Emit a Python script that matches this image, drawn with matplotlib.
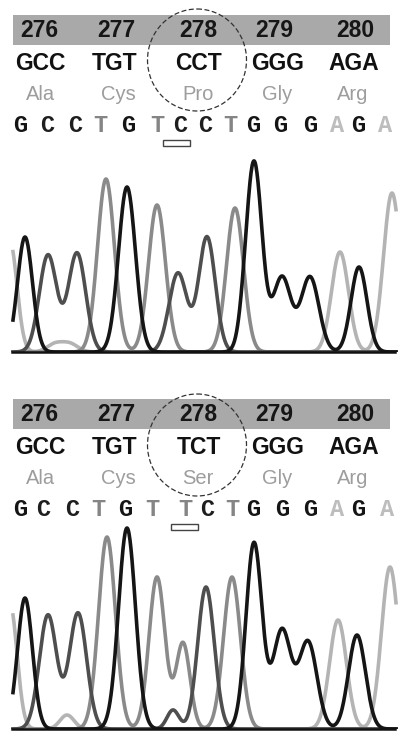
import numpy as np
import matplotlib
matplotlib.use("Agg")
import matplotlib.pyplot as plt
from matplotlib.patches import Rectangle, Ellipse

W, H = 398, 731

# Cabeçalho (igual nos dois painéis, menos o códon 278)
codon_numbers = ["276", "277", "278", "279", "280"]
codons_wt = ["GCC", "TGT", "CCT", "GGG", "AGA"]
codons_mut = ["GCC", "TGT", "TCT", "GGG", "AGA"]
amino_wt = ["Ala", "Cys", "Pro", "Gly", "Arg"]
amino_mut = ["Ala", "Cys", "Ser", "Gly", "Arg"]
number_x = [39, 116, 198, 274, 355]
codon_x = [40, 115, 199, 278, 354]
amino_x = [41, 118, 198, 277, 353]

# Bases chamadas e posição (scan) de cada uma
calls_wt = list("GCCTGTCCTGGGAGA")
calls_wt_x = [20, 47, 75, 100, 128, 157, 180, 205, 230, 253, 280, 310, 337, 358, 385]
calls_mut = list("GCCTGTTCTGGGAGA")
calls_mut_x = [20, 43, 72, 98, 125, 152, 185, 207, 232, 253, 282, 310, 337, 358, 387]

# Picos do cromatograma normal: posição, altura, largura
wt_G_pos = [25, 127, 243, 254, 282, 310, 359]
wt_G_h = [115, 165, 6, 190, 75, 75, 85]
wt_G_w = [7.5, 8.5, 5, 8, 9, 9, 8]
wt_C_pos = [48, 77, 178, 207]
wt_C_h = [97, 99, 79, 115]
wt_C_w = [8.7, 8.7, 9, 8.3]
wt_T_pos = [106, 157, 235]
wt_T_h = [173, 147, 144]
wt_T_w = [8.5, 8.5, 8.5]
wt_A_pos = [10, 55, 70, 340, 392]
wt_A_h = [110, 8, 8, 100, 159]
wt_A_w = [7, 8, 8, 8.5, 8.5]

# Picos do cromatograma mutante
mut_G_pos = [25, 127, 254, 282, 308, 357]
mut_G_h = [131, 201, 186, 99, 87, 94]
mut_G_w = [7.5, 8.5, 8, 9, 9, 8.5]
mut_C_pos = [48, 78, 173, 206]
mut_C_h = [114, 116, 19, 142]
mut_C_w = [8.7, 8.7, 6, 8.3]
mut_T_pos = [107, 157, 183, 232]
mut_T_h = [192, 152, 86, 152]
mut_T_w = [8.5, 8, 7, 8.5]
mut_A_pos = [10, 67, 338, 390]
mut_A_h = [125, 14, 109, 162]
mut_A_w = [7, 7, 8.5, 8.5]

trace_color = {"A": "#b4b4b4", "T": "#8a8a8a", "C": "#4e4e4e", "G": "#151515"}
letter_color = {"A": "#bdbdbd", "T": "#858585", "C": "#1e1e1e", "G": "#151515"}


def eixo_px(fig, x0, y0, x1, y1):
    return fig.add_axes([x0 / W, 1 - y1 / H, (x1 - x0) / W, (y1 - y0) / H])


def traco(scan, pos, alt, larg):
    y = np.zeros_like(scan)
    for p, h, s in zip(pos, alt, larg):
        y += h * np.exp(-(scan - p) ** 2 / (2 * s ** 2))
    return y


def desenha_cabecalho(ax, y0, codons, aminos, calls, calls_x, circ_y, box_x):
    ax.add_patch(Rectangle((13, y0), 377, 30, color="#a9a9a9", lw=0))
    for n, x in zip(codon_numbers, number_x):
        ax.text(x, y0 + 15.5, n, ha="center", va="center", fontsize=16.5,
                fontweight="bold", family="Liberation Sans", color="#161616")
    for c, x in zip(codons, codon_x):
        ax.text(x, y0 + 48, c, ha="center", va="center", fontsize=16.5,
                fontweight="bold", family="Liberation Sans", color="#111111")
    for a, x in zip(aminos, amino_x):
        ax.text(x, y0 + 80, a, ha="center", va="center", fontsize=14.5,
                family="Liberation Sans", color="#9d9d9d")
    for b, x in zip(calls, calls_x):
        ax.text(x, y0 + 110, b, ha="center", va="center", fontsize=17,
                fontweight="bold", family="Liberation Mono", color=letter_color[b])
    ax.add_patch(Ellipse((197, circ_y), 99, 102, fill=False, ec="#333333",
                         lw=0.9, ls=(0, (4, 2))))
    ax.add_patch(Rectangle((box_x, y0 + 125), 27, 6, fill=False, ec="#444444", lw=1))


def desenha_cromatograma(fig, y0, y1, canais):
    ax = eixo_px(fig, 0, y0, W, y1)
    scan = np.arange(13, 396.5, 0.5)
    for base in ["A", "T", "C", "G"]:
        pos, alt, larg = canais[base]
        ax.plot(scan, traco(scan, pos, alt, larg), color=trace_color[base],
                lw=2.6, solid_joinstyle="round")
    ax.plot([12, 395], [0, 0], color="#111111", lw=1.8, clip_on=False)
    ax.set_xlim(0, W)
    ax.set_ylim(0, y1 - y0)
    ax.axis("off")
    return ax


fig = plt.figure(figsize=(W / 100, H / 100), dpi=100)
over = fig.add_axes([0, 0, 1, 1])
over.set_xlim(0, W)
over.set_ylim(H, 0)
over.axis("off")

desenha_cabecalho(over, 15, codons_wt, amino_wt, calls_wt, calls_wt_x, 60, 163)
desenha_cabecalho(over, 399, codons_mut, amino_mut, calls_mut, calls_mut_x, 445, 171)

desenha_cromatograma(fig, 150, 352, {
    "G": (wt_G_pos, wt_G_h, wt_G_w),
    "C": (wt_C_pos, wt_C_h, wt_C_w),
    "T": (wt_T_pos, wt_T_h, wt_T_w),
    "A": (wt_A_pos, wt_A_h, wt_A_w),
})
desenha_cromatograma(fig, 520, 729, {
    "G": (mut_G_pos, mut_G_h, mut_G_w),
    "C": (mut_C_pos, mut_C_h, mut_C_w),
    "T": (mut_T_pos, mut_T_h, mut_T_w),
    "A": (mut_A_pos, mut_A_h, mut_A_w),
})

fig.savefig("out.png", dpi=100)
